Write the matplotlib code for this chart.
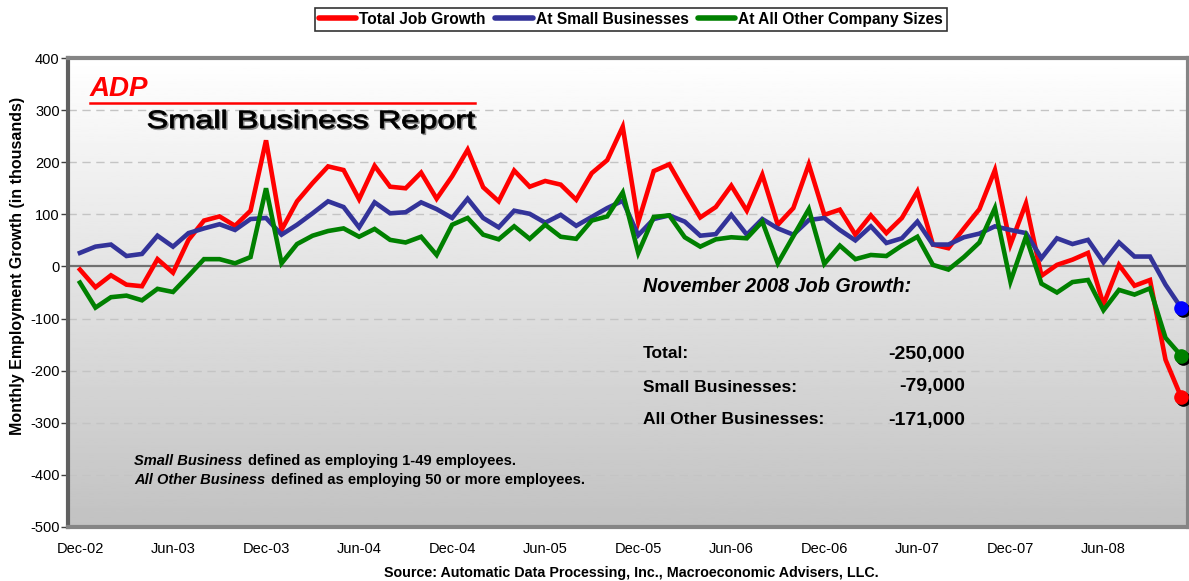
import matplotlib
matplotlib.use("Agg")
import matplotlib.pyplot as plt
import matplotlib.transforms as mtransforms
from matplotlib.textpath import TextPath
from matplotlib.patches import PathPatch
from matplotlib.font_manager import FontProperties
import numpy as np

plt.rcParams['font.family'] = ['Liberation Sans', 'DejaVu Sans']

# ---- data (thousands of jobs, monthly Dec-02 .. Nov-08) ----
months = ["Dec-02", "Jan-03", "Feb-03", "Mar-03", "Apr-03", "May-03", "Jun-03", "Jul-03", "Aug-03", "Sep-03", "Oct-03", "Nov-03",
          "Dec-03", "Jan-04", "Feb-04", "Mar-04", "Apr-04", "May-04", "Jun-04", "Jul-04", "Aug-04", "Sep-04", "Oct-04", "Nov-04",
          "Dec-04", "Jan-05", "Feb-05", "Mar-05", "Apr-05", "May-05", "Jun-05", "Jul-05", "Aug-05", "Sep-05", "Oct-05", "Nov-05",
          "Dec-05", "Jan-06", "Feb-06", "Mar-06", "Apr-06", "May-06", "Jun-06", "Jul-06", "Aug-06", "Sep-06", "Oct-06", "Nov-06",
          "Dec-06", "Jan-07", "Feb-07", "Mar-07", "Apr-07", "May-07", "Jun-07", "Jul-07", "Aug-07", "Sep-07", "Oct-07", "Nov-07",
          "Dec-07", "Jan-08", "Feb-08", "Mar-08", "Apr-08", "May-08", "Jun-08", "Jul-08", "Aug-08", "Sep-08", "Oct-08", "Nov-08"]

total = [-6, -40, -17, -35, -38, 14, -12, 51, 88, 96, 78, 107,
         242, 70, 125, 160, 192, 185, 129, 193, 153, 150, 180, 130,
         173, 224, 152, 125, 184, 153, 164, 157, 128, 179, 204, 268,
         85, 183, 196, 144, 94, 114, 155, 107, 176, 80, 112, 196,
         99, 109, 61, 98, 64, 93, 144, 42, 35, 73, 110, 185,
         42, 121, -18, 3, 13, 26, -73, 3, -37, -26, -179, -250]

small = [26, 38, 42, 20, 24, 59, 38, 64, 73, 81, 70, 91,
         93, 61, 80, 102, 125, 114, 75, 123, 102, 104, 123, 110,
         93, 130, 93, 75, 107, 101, 84, 99, 78, 95, 112, 126,
         60, 91, 98, 86, 59, 62, 99, 61, 91, 73, 61, 89,
         93, 70, 50, 77, 45, 54, 86, 42, 42, 56, 63, 77,
         70, 64, 16, 54, 43, 51, 8, 46, 19, 19, -35, -79]

other = [-31, -79, -59, -56, -65, -43, -49, -18, 14, 14, 6, 18,
         150, 6, 43, 59, 68, 73, 57, 72, 51, 46, 57, 22,
         80, 93, 61, 52, 77, 53, 80, 57, 53, 88, 96, 142,
         26, 95, 98, 56, 38, 52, 56, 54, 86, 6, 58, 110,
         5, 40, 14, 22, 20, 40, 57, 3, -6, 18, 46, 112,
         -29, 57, -33, -50, -30, -26, -84, -45, -54, -42, -137, -171]

series_names = ["Total Job Growth", "At Small Businesses", "At All Other Company Sizes"]
line_colors = ["#ff0000", "#333399", "#008000"]
dot_colors = ["#ff0000", "#0000ff", "#008000"]

summary_labels = ["Total:", "Small Businesses:", "All Other Businesses:"]
summary_values = ["-250,000", "-79,000", "-171,000"]

yticks = list(range(-500, 401, 100))

# ---- figure ----
W, H = 1189, 581
fig = plt.figure(figsize=(W / 100, H / 100), dpi=100)
ax = fig.add_axes([68 / W, 1 - 527 / H, (1188 - 68) / W, (527 - 58) / H])

x = np.arange(len(months))
ax.set_xlim(-0.77, len(months) - 1 + 0.45)
ax.set_ylim(-500, 400)

# gradient background
grad = np.linspace(1.0, 0.76, 256).reshape(-1, 1)
ax.imshow(grad, cmap="gray", vmin=0, vmax=1, aspect="auto",
          extent=[0, 1, 0, 1], transform=ax.transAxes, zorder=0)

# gridlines
for v in yticks:
    if v == 0:
        ax.axhline(0, color="#707070", lw=1.6, zorder=1)
    elif v not in (-500, 400):
        ax.axhline(v, color="#c4c4c4", lw=1.0, ls=(0, (6, 4)), zorder=1)

for vals, col, dcol, name in zip([total, small, other], line_colors, dot_colors, series_names):
    ax.plot(x, vals, color=col, lw=3.3, zorder=3, label=name, solid_joinstyle="miter")
    shadow = mtransforms.offset_copy(ax.transData, fig=fig, x=2, y=-2, units="dots")
    ax.plot(x[-1], vals[-1], "o", ms=9.5, color="black", transform=shadow, zorder=4)
    ax.plot(x[-1], vals[-1], "o", ms=9.5, color=dcol, zorder=5)

# axes styling
for s in ["top", "right", "bottom"]:
    ax.spines[s].set_color("#858585")
    ax.spines[s].set_linewidth(3)
ax.spines["left"].set_color("#606060")
ax.spines["left"].set_linewidth(3)

ax.set_yticks(yticks)
ax.set_yticklabels([str(v) for v in yticks], fontsize=10.5)
ax.tick_params(axis="y", length=5, width=1, color="#404040", pad=1)
tick_pos = x[::6]
ax.set_xticks(tick_pos)
ax.set_xticklabels([months[i] for i in tick_pos], fontsize=10.5)
ax.tick_params(axis="x", length=0, pad=11)

fig.text(18 / W, 1 - 266 / H, "Monthly Employment Growth (in thousands)", rotation=90,
         ha="center", va="center", fontsize=11.5, fontweight="bold")

# legend
leg = fig.legend(loc="upper center", bbox_to_anchor=(631 / W, 1 - 8 / H), ncol=3,
                 fontsize=11.2, frameon=True, fancybox=False, handlelength=2.4,
                 handletextpad=0.2, columnspacing=0.6, borderpad=0.25, borderaxespad=0)
leg.get_frame().set_edgecolor("black")
leg.get_frame().set_linewidth(1.2)
for t in leg.get_texts():
    t.set_fontweight("bold")
for l in leg.get_lines():
    l.set_linewidth(4)
    l.set_solid_capstyle("round")

# ADP logo approximation
fig.text(90 / W, 1 - 89 / H, "ADP", color="#ff0000",
         fontsize=20, fontweight="bold", fontstyle="italic", ha="left", va="center")
fig.add_artist(plt.Line2D([90 / W, 475 / W], [1 - 103 / H, 1 - 103 / H],
                          color="#ff0000", lw=1.8, transform=fig.transFigure))


def stretched_text(s, x0, x1, baseline, cap_h, color, dx=0, dy=0):
    tp = TextPath((0, 0), s, size=100, prop=FontProperties(family="Liberation Sans", weight="normal"))
    bb = tp.get_extents()
    sx = (x1 - x0) / bb.width
    sy = cap_h / 72.0
    tr = mtransforms.Affine2D().translate(-bb.x0, 0).scale(sx, sy).translate(x0 + dx, (H - baseline) - dy)
    p = PathPatch(tp, facecolor=color, edgecolor=color, lw=0.6, transform=tr)
    fig.add_artist(p)


stretched_text("Small Business Report", 148, 475, 128, 18, "#8a8a8a", dx=1.5, dy=1.5)
stretched_text("Small Business Report", 148, 475, 128, 18, "black")

# summary box text
fig.text(643 / W, 1 - 287 / H, "November 2008 Job Growth:", fontsize=14.2,
         fontweight="bold", fontstyle="italic", ha="left", va="center")
for i, (lab, val) in enumerate(zip(summary_labels, summary_values)):
    yy = 1 - (354 + i * 33) / H
    fig.text(643 / W, yy, lab, fontsize=12.5, fontweight="bold", ha="left", va="center")
    fig.text(965 / W, yy, val, fontsize=14, fontweight="bold", ha="right", va="center")

# footnotes
t1 = fig.text(134 / W, 1 - 461 / H, "Small Business", fontsize=10.5, fontweight="bold",
              fontstyle="italic", ha="left", va="center")
t2 = fig.text(134 / W, 1 - 480 / H, "All Other Business", fontsize=10.5, fontweight="bold",
              fontstyle="italic", ha="left", va="center")
fig.canvas.draw()
r = fig.canvas.get_renderer()
b1 = t1.get_window_extent(r)
b2 = t2.get_window_extent(r)
fig.text((b1.x1 + 6) / W, 1 - 461 / H, "defined as employing 1-49 employees.", fontsize=10.5,
         fontweight="bold", ha="left", va="center")
fig.text((b2.x1 + 6) / W, 1 - 480 / H, "defined as employing 50 or more employees.", fontsize=10.5,
         fontweight="bold", ha="left", va="center")

fig.text(631 / W, 1 - 573 / H, "Source: Automatic Data Processing, Inc., Macroeconomic Advisers, LLC.",
         fontsize=10.3, fontweight="bold", ha="center", va="center")

fig.savefig("out.png", dpi=100)
